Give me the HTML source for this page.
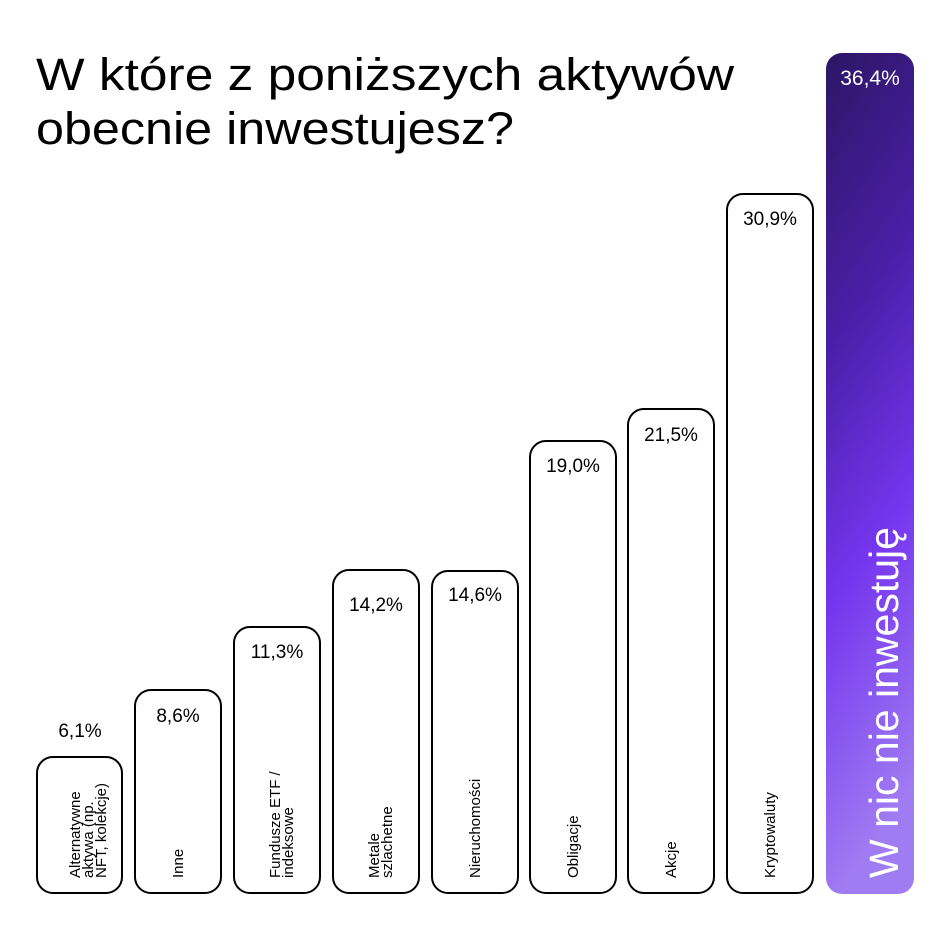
<!DOCTYPE html>
<html><head><meta charset="utf-8"><style>
html,body{margin:0;padding:0;background:#fff}
svg{display:block}
text{font-family:"Liberation Sans",sans-serif}
</style></head><body>
<svg width="948" height="948" viewBox="0 0 948 948" xmlns="http://www.w3.org/2000/svg">
<defs>
<linearGradient id="g" x1="0" y1="0" x2="0.15" y2="1">
<stop offset="0" stop-color="#2c1664"/>
<stop offset="0.35" stop-color="#4a1fa8"/>
<stop offset="0.65" stop-color="#7535ee"/>
<stop offset="1" stop-color="#a07cf2"/>
</linearGradient>
</defs>
<rect width="948" height="948" fill="#fff"/>
<text x="36" y="90" font-size="45" fill="#000" textLength="698" lengthAdjust="spacingAndGlyphs">W które z poniższych aktywów</text>
<text x="36" y="144" font-size="45" fill="#000" textLength="478" lengthAdjust="spacingAndGlyphs">obecnie inwestujesz?</text>
<g fill="#fff" stroke="#000" stroke-width="2">
<rect x="37" y="757" width="85" height="136" rx="16"/>
<rect x="135" y="690" width="86" height="203" rx="16"/>
<rect x="234" y="627" width="86" height="266" rx="16"/>
<rect x="333" y="570" width="86" height="323" rx="16"/>
<rect x="432" y="571" width="86" height="322" rx="16"/>
<rect x="530" y="441" width="86" height="452" rx="16"/>
<rect x="628" y="409" width="86" height="484" rx="16"/>
<rect x="727" y="194" width="86" height="699" rx="16"/>
</g>
<rect x="826" y="53" width="88" height="841" rx="16" fill="url(#g)"/>
<g font-size="19" text-anchor="middle" fill="#000">
<text x="80" y="737">6,1%</text>
<text x="178" y="722">8,6%</text>
<text x="277" y="658">11,3%</text>
<text x="376" y="611">14,2%</text>
<text x="475" y="601">14,6%</text>
<text x="573" y="472">19,0%</text>
<text x="671" y="441">21,5%</text>
<text x="770" y="225">30,9%</text>
<text x="870" y="85" fill="#fff" font-size="21">36,4%</text>
</g>
<g font-size="15" fill="#000">
<text transform="translate(80,878) rotate(-90)">Alternatywne</text>
<text transform="translate(93,878) rotate(-90)">aktywa (np.</text>
<text transform="translate(106,878) rotate(-90)">NFT, kolekcje)</text>
<text transform="translate(183,878) rotate(-90)">Inne</text>
<text transform="translate(280,878) rotate(-90)">Fundusze ETF /</text>
<text transform="translate(293,878) rotate(-90)">indeksowe</text>
<text transform="translate(379,878) rotate(-90)">Metale</text>
<text transform="translate(392,878) rotate(-90)">szlachetne</text>
<text transform="translate(480,878) rotate(-90)">Nieruchomości</text>
<text transform="translate(578,878) rotate(-90)">Obligacje</text>
<text transform="translate(676,878) rotate(-90)">Akcje</text>
<text transform="translate(775,878) rotate(-90)">Kryptowaluty</text>
</g>
<text transform="translate(898,878) rotate(-90)" font-size="41" fill="#fff">W nic nie inwestuję</text>
</svg>
</body></html>
